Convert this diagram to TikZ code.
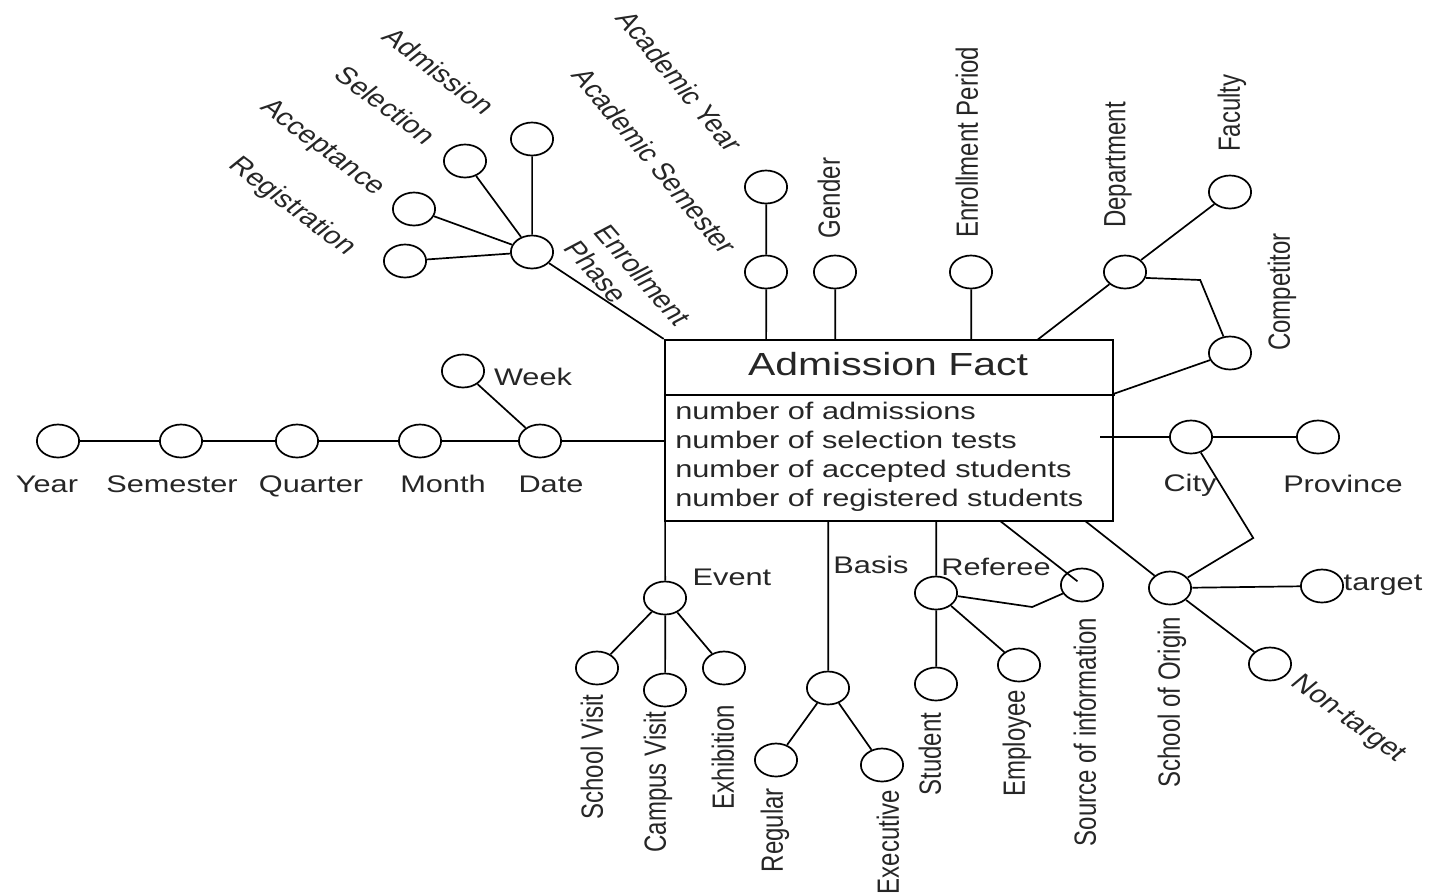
\documentclass[tikz,border=0pt]{standalone}
\usepackage{fontspec}
\setmainfont{Liberation Sans}
\begin{document}
\begin{tikzpicture}[xscale=1.28, x=0.78125pt, y=-1pt,
  att/.style={circle, draw, line width=1.7pt, minimum size=33pt, inner sep=0pt, transform shape},
  lbl/.style={font=\fontsize{24}{28}\selectfont, inner sep=0pt, transform shape, text=black!85},
  vlbl/.style={lbl, rotate=90},
  conn/.style={line width=1.7pt},
  factbox/.style={draw, line width=2.2pt, minimum width=350pt, minimum height=181pt, inner sep=0pt, transform shape}]
\useasboundingbox (0,0) rectangle (1431,892);

% fact table
\node[factbox] (fact) at (889,430.5) {};
\path (fact.north west) ++(0,56) coordinate (sepL);
\path (fact.north east) ++(0,56) coordinate (sepR);
\draw[line width=2.2pt] (sepL) -- (sepR);
\node[lbl, font=\fontsize{32}{36}\selectfont, anchor=base] (title) at (888,375) {Admission Fact};
\node[lbl, anchor=base west] (m1) at (675,419) {number of admissions};
\node[lbl, anchor=base west] (m2) at (675,448) {number of selection tests};
\node[lbl, anchor=base west] (m3) at (675,477) {number of accepted students};
\node[lbl, anchor=base west] (m4) at (675,506) {number of registered students};

% date hierarchy
\node[att] (year) at (58,441) {};
\node[att] (semester) at (181,441) {};
\node[att] (quarter) at (297,441) {};
\node[att] (month) at (420,441) {};
\node[att] (date) at (540,441) {};
\node[att] (week) at (463,371) {};
\draw[conn] (year) -- (semester) -- (quarter) -- (month) -- (date) -- (date -| fact.west);
\draw[conn] (week) -- (date);
\node[lbl, anchor=base] (lyear) at (47,492) {Year};
\node[lbl, anchor=base] (lsem) at (172,492) {Semester};
\node[lbl, anchor=base] (lquar) at (311,492) {Quarter};
\node[lbl, anchor=base] (lmonth) at (443,492) {Month};
\node[lbl, anchor=base] (ldate) at (551,492) {Date};
\node[lbl, anchor=base] (lweek) at (533,385) {Week};

% enrollment phase
\node[att] (phase) at (532,252) {};
\node[att] (admission) at (532,139) {};
\node[att] (selection) at (465,161) {};
\node[att] (acceptance) at (414,209) {};
\node[att] (registration) at (405,261) {};
\draw[conn] (phase) -- (admission);
\draw[conn] (phase) -- (selection);
\draw[conn] (phase) -- (acceptance);
\draw[conn] (phase) -- (registration);
\draw[conn] (phase) -- (fact.north west);
\node[lbl, rotate=-44] (ladm) at (439,71) {Admission};
\node[lbl, rotate=-44] (lsel) at (386,105) {Selection};
\node[lbl, rotate=-44] (lacc) at (322,148) {Acceptance};
\node[lbl, rotate=-44] (lreg) at (292,207) {Registration};
\node[lbl, rotate=-56, align=left] (lphase) at (628,283) {Enrollment\\Phase};

% academic period
\node[att] (acyear) at (766,187) {};
\node[att] (acsem) at (766,272) {};
\draw[conn] (acyear) -- (acsem);
\draw[conn] (acsem) -- (acsem |- fact.north);
\node[lbl, rotate=-57] (lacyear) at (680,81) {Academic Year};
\node[lbl, rotate=-57] (lacsem) at (655,161) {Academic Semester};

% gender, enrollment period
\node[att] (gender) at (835,272) {};
\draw[conn] (gender) -- (gender |- fact.north);
\node[vlbl] (lgender) at (829,198) {Gender};
\node[att] (period) at (971,272) {};
\draw[conn] (period) -- (period |- fact.north);
\node[vlbl] (lperiod) at (967,142) {Enrollment Period};

% department
\coordinate (deptA) at (1037,340);
\coordinate (bendA) at (1200,280);
\coordinate (compA) at (1113,394);
\node[att] (dept) at (1125,272) {};
\node[att] (faculty) at (1230,192) {};
\node[att] (competitor) at (1230,353) {};
\draw[conn] (deptA) -- (dept);
\draw[conn] (dept) -- (faculty);
\draw[conn] (dept.-20) -- (bendA) -- (competitor);
\draw[conn] (competitor) -- (compA);
\node[vlbl] (ldept) at (1118,165) {Department};
\node[vlbl] (lfac) at (1232,113) {Faculty};
\node[vlbl] (lcomp) at (1282,292) {Competitor};

% city / school of origin
\coordinate (cityA) at (1100,437);
\coordinate (bendB) at (1253,538);
\coordinate (schoolA) at (1085,521);
\node[att] (city) at (1191,437) {};
\node[att] (province) at (1318,437) {};
\node[att] (school) at (1170,588) {};
\node[att] (target) at (1322,586) {};
\node[att] (nontarget) at (1270,664) {};
\draw[conn] (cityA) -- (city) -- (province);
\draw[conn] (city) -- (bendB) -- (school);
\draw[conn] (school) -- (schoolA);
\draw[conn] (school) -- (target);
\draw[conn] (school) -- (nontarget);
\node[lbl, anchor=base] (lcity) at (1190,491) {City};
\node[lbl, anchor=base] (lprov) at (1343,492) {Province};
\node[lbl, anchor=base] (ltarget) at (1383,590) {target};
\node[vlbl] (lschool) at (1172,702) {School of Origin};
\node[lbl, rotate=-43] (lnontarget) at (1348,719) {Non-target};

% event
\node[att] (event) at (665,598) {};
\node[att] (schoolvisit) at (597,668) {};
\node[att] (campus) at (665,690) {};
\node[att] (exhib) at (724,668) {};
\draw[conn] (event) -- (event |- fact.south);
\draw[conn] (event) -- (schoolvisit);
\draw[conn] (event) -- (campus);
\draw[conn] (event) -- (exhib);
\node[lbl, anchor=base] (levent) at (732,585) {Event};
\node[vlbl] (lsv) at (592,757) {School Visit};
\node[vlbl] (lcv) at (658,782) {Campus Visit};
\node[vlbl] (lex) at (723,757) {Exhibition};

% basis
\node[att] (basis) at (828,688) {};
\node[att] (regular) at (776,760) {};
\node[att] (executive) at (882,765) {};
\draw[conn] (basis) -- (basis |- fact.south);
\draw[conn] (basis) -- (regular);
\draw[conn] (basis) -- (executive);
\node[lbl, anchor=base] (lbasis) at (871,573) {Basis};
\node[vlbl] (lreg2) at (775,830) {Regular};
\node[vlbl] (lexec) at (888,842) {Executive};

% referee / source of information
\coordinate (bendC) at (1032,607);
\coordinate (srcA) at (1000,521);
\node[att] (referee) at (936,593) {};
\node[att] (student) at (936,684) {};
\node[att] (employee) at (1019,665) {};
\node[att] (source) at (1082,585) {};
\draw[conn] (referee) -- (referee |- fact.south);
\draw[conn] (referee) -- (student);
\draw[conn] (referee) -- (employee);
\draw[conn] (referee) -- (bendC) -- (source);
\draw[conn, shorten >=6pt] (srcA) -- (source.center);
\node[lbl, anchor=base] (lref) at (996,575) {Referee};
\node[vlbl] (lstud) at (930,754) {Student};
\node[vlbl] (lemp) at (1017,743) {Employee};
\node[vlbl] (lsrc) at (1085,732) {Source of information};
\end{tikzpicture}
\end{document}
